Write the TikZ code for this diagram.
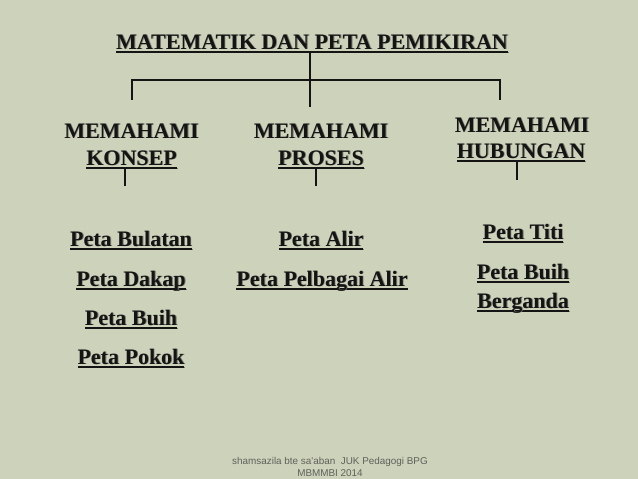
\documentclass[tikz,border=0pt]{standalone}
\usepackage{fontspec}
\setmainfont{Liberation Serif}
\newfontfamily\footfont{Liberation Sans}
\definecolor{bgc}{RGB}{205,210,187}
\definecolor{txtc}{RGB}{20,20,20}
\definecolor{shadc}{RGB}{120,124,110}
\definecolor{footc}{RGB}{95,97,90}
\newcommand\shd[1]{\leavevmode\rlap{\kern0.9pt\raisebox{-0.9pt}{\color{shadc}#1}}#1}
\newcommand\myul[1]{\setbox0\hbox{#1}\rlap{\color{shadc}\kern0.9pt\rule[-4.4pt]{\wd0}{1.7pt}}\rlap{\rule[-3.5pt]{\wd0}{1.7pt}}\box0}
\tikzset{
  lbl/.style={anchor=base, inner sep=0pt, text=txtc, font=\fontsize{22}{27}\selectfont\bfseries},
  conn/.style={draw=txtc, line width=1.8pt},
  foot/.style={anchor=base, inner sep=0pt, text=footc, font=\fontsize{9.9}{11}\selectfont\footfont}
}
\begin{document}
\begin{tikzpicture}[x=1pt,y=-1pt]
\fill[bgc] (0,0) rectangle (638,479);
\useasboundingbox (0,0) rectangle (638,479);
% title
\node[lbl] (title) at (312,49) {\myul{\shd{MATEMATIK DAN PETA PEMIKIRAN}}};
% column headers
\node[lbl] (h1a) at (131.5,138) {\shd{MEMAHAMI}};
\node[lbl] (h1b) at (131.5,165) {\myul{\shd{KONSEP}}};
\node[lbl] (h2a) at (321,138) {\shd{MEMAHAMI}};
\node[lbl] (h2b) at (321,165) {\myul{\shd{PROSES}}};
\node[lbl] (h3a) at (522,132) {\shd{MEMAHAMI}};
\node[lbl] (h3b) at (521,158) {\myul{\shd{HUBUNGAN}}};
% items column 1
\node[lbl] (p11) at (131,246) {\myul{\shd{Peta Bulatan}}};
\node[lbl] (p12) at (131,286) {\myul{\shd{Peta Dakap}}};
\node[lbl] (p13) at (131,325) {\myul{\shd{Peta Buih}}};
\node[lbl] (p14) at (131,364) {\myul{\shd{Peta Pokok}}};
% items column 2
\node[lbl] (p21) at (321,246) {\myul{\shd{Peta Alir}}};
\node[lbl] (p22) at (322,286) {\myul{\shd{Peta Pelbagai Alir}}};
% items column 3
\node[lbl] (p31) at (523,239) {\myul{\shd{Peta Titi}}};
\node[lbl] (p32) at (523,279) {\myul{\shd{Peta Buih}}};
\node[lbl] (p33) at (523,308) {\myul{\shd{Berganda}}};
% connector coordinates
\coordinate (tb) at (310,52);
\coordinate (tm) at (310,107);
\coordinate (bl) at (132,80);
\coordinate (br) at (500,80);
\coordinate (l1) at (132,100);
\coordinate (r1) at (500,100);
\coordinate (k1) at (125,169);
\coordinate (k1e) at (125,186);
\coordinate (k2) at (316,169);
\coordinate (k2e) at (316,186);
\coordinate (k3) at (517,162);
\coordinate (k3e) at (517,180);
\draw[conn] (tb) -- (tm);
\draw[conn] (l1) -- (bl) -- (br) -- (r1);
\draw[conn] (k1) -- (k1e);
\draw[conn] (k2) -- (k2e);
\draw[conn] (k3) -- (k3e);
% footer
\node[foot] (f1) at (330,464) {shamsazila bte sa'aban\ \ JUK Pedagogi BPG};
\node[foot] (f2) at (330,476) {MBMMBI 2014};
\end{tikzpicture}
\end{document}
